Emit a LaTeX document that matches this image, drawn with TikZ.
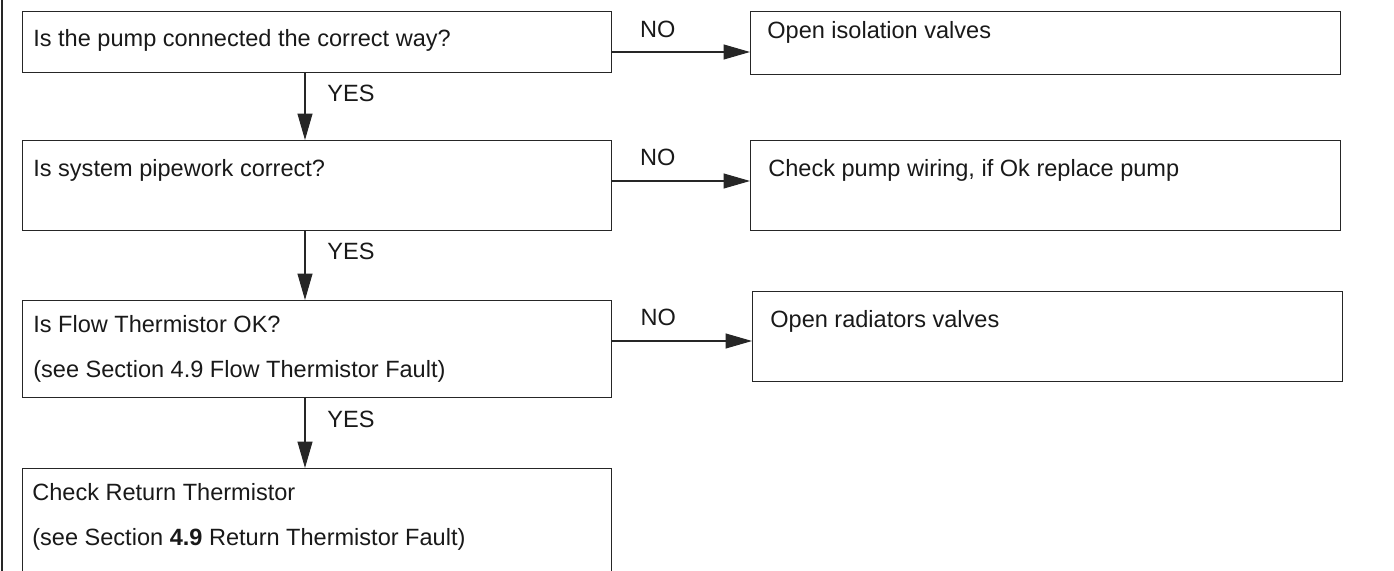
\documentclass[tikz,border=0pt]{standalone}
\usepackage{fontspec}
\setmainfont{Liberation Sans}
\usepackage{tikz}
\usetikzlibrary{arrows.meta,calc}
\tikzset{
  fcbox/.style={draw=black!85, line width=0.8pt, anchor=north west, inner sep=0pt, minimum width=11.78cm},
  fctext/.style={anchor=base west, inner sep=0pt, text=black!90, font=\fontsize{13.4}{16}\selectfont},
  fclabel/.style={inner sep=0pt, text=black!90, font=\fontsize{13.4}{16}\selectfont},
  fcflow/.style={draw=black!85, line width=0.6pt, -{Triangle[length=15pt,width=8.5pt]}},
  fcedge/.style={draw=black!85, line width=0.8pt},
}

\begin{document}
\begin{tikzpicture}[x=0.02cm, y=-0.02cm]
\useasboundingbox (0,0) rectangle (1394,571);
\clip (0,0) rectangle (1394,571);
\draw[fcedge] (2,0) -- (2,571);
% question boxes
\node[fcbox, minimum height=1.22cm] (q1) at (22,11) {};
\node[fcbox, minimum height=1.80cm] (q2) at (22,140) {};
\node[fcbox, minimum height=1.94cm] (q3) at (22,300) {};
\node[fcbox, minimum height=2.64cm] (q4) at (22,468) {};
\node[fctext] (q1t) at ($(q1.north west)+(11,36)$) {Is the pump connected the correct way?};
\node[fctext] (q2t) at ($(q2.north west)+(11,36)$) {Is system pipework correct?};
\node[fctext] (q3t) at ($(q3.north west)+(11,32)$) {Is Flow Thermistor OK?};
\node[fctext] (q3s) at ($(q3.north west)+(11,77)$) {(see Section 4.9 Flow Thermistor Fault)};
\node[fctext] (q4t) at ($(q4.north west)+(10,32)$) {Check Return Thermistor};
\node[fctext] (q4s) at ($(q4.north west)+(10,77)$) {(see Section {\bfseries 4.9} Return Thermistor Fault)};
% action boxes
\node[fcbox, minimum width=11.80cm, minimum height=1.26cm] (a1) at (750,11) {};
\node[fcbox, minimum width=11.80cm, minimum height=1.80cm] (a2) at (750,140) {};
\node[fcbox, minimum width=11.80cm, minimum height=1.80cm] (a3) at (752,291) {};
\node[fctext] (a1t) at ($(a1.north west)+(17,28)$) {Open isolation valves};
\node[fctext] (a2t) at ($(a2.north west)+(18,36)$) {Check pump wiring, if Ok replace pump};
\node[fctext] (a3t) at ($(a3.north west)+(18,36)$) {Open radiators valves};
% NO branches
\draw[fcflow] ($(q1.north east)+(0,41)$) coordinate (n1) -- (n1 -| a1.west)
  node[fclabel, pos=.33, above=8pt] (no1) {NO};
\draw[fcflow] ($(q2.north east)+(0,41)$) coordinate (n2) -- (n2 -| a2.west)
  node[fclabel, pos=.33, above=8.2pt] (no2) {NO};
\draw[fcflow] ($(q3.north east)+(0,41)$) coordinate (n3) -- (n3 -| a3.west)
  node[fclabel, pos=.33, above=8.6pt] (no3) {NO};
% YES branches
\draw[fcflow] ($(q1.south west)+(283,0)$) coordinate (y1) -- (y1 |- q2.north);
\draw[fcflow] ($(q2.south west)+(283,0)$) coordinate (y2) -- (y2 |- q3.north);
\draw[fcflow] ($(q3.south west)+(283,0)$) coordinate (y3) -- (y3 |- q4.north);
\node[fctext] (yes1) at ($(y1)+(22,28)$) {YES};
\node[fctext] (yes2) at ($(y2)+(22,28)$) {YES};
\node[fctext] (yes3) at ($(y3)+(22,29)$) {YES};
\end{tikzpicture}
\end{document}
